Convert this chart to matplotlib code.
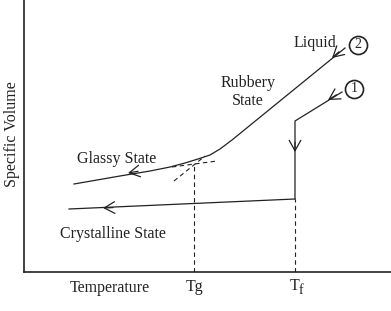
import matplotlib
matplotlib.use("Agg")
import matplotlib.pyplot as plt

plt.rcParams['font.family'] = ['Liberation Serif', 'DejaVu Serif']

# curve values (temperature, specific volume), arbitrary units
glass_T = [74, 120, 150, 170, 185, 198, 210, 220, 232, 345]
glass_V = [88, 96, 101, 105, 109, 113, 117, 123, 132, 224]

glass_ext_T = [172, 217]
glass_ext_V = [105, 111]
rubber_ext_T = [174, 205]
rubber_ext_V = [91, 116]

cryst_T = [69, 295]
cryst_V = [63, 73]

path1_T = [342, 295, 295]
path1_V = [180, 151, 73]

Tg = 194
Tg_V = 107
Tf = 295
Tf_V = 73

col = '#222222'
lw = 0.9

fig = plt.figure(figsize=(3.91, 3.11), dpi=100)
ax = fig.add_axes([24 / 391, 39 / 311, 367 / 391, 272 / 311])
ax.set_xlim(24, 391)
ax.set_ylim(0, 272)

ax.plot(glass_T, glass_V, color=col, lw=lw)
ax.plot(glass_ext_T, glass_ext_V, color=col, lw=0.8, ls=(0, (4, 3)))
ax.plot(rubber_ext_T, rubber_ext_V, color=col, lw=0.8, ls=(0, (4, 3)))
ax.plot(cryst_T, cryst_V, color=col, lw=lw)
ax.plot(path1_T, path1_V, color=col, lw=lw)
ax.plot([Tg, Tg], [0, Tg_V], color=col, lw=0.8, ls=(0, (4, 3)))
ax.plot([Tf, Tf], [0, Tf_V], color=col, lw=0.8, ls=(0, (4, 3)))

# open arrowheads along the paths
arrows = [
    ((128, 99), (138, 100.7)),
    ((103, 64), (113, 64.4)),
    ((295, 120), (295, 130)),
    ((328, 172), (336.5, 177.2)),
    ((332, 214), (339, 220.3)),
]
for tip, tail in arrows:
    ax.annotate('', xy=tip, xytext=tail,
                arrowprops=dict(arrowstyle='->,head_length=0.5,head_width=0.28',
                                color=col, lw=0.9,
                                mutation_scale=15, shrinkA=0, shrinkB=0))

# circled path numbers
for x, y, s in [(354, 183, '1'), (358, 227, '2')]:
    ax.plot(x, y, 'o', ms=13, mfc='white', mec=col, mew=1.2)
    ax.text(x, y, s, ha='center', va='center', fontsize=10, color=col)

fs = 11.5
ax.text(315, 229, 'Liquid', ha='center', va='center', fontsize=fs, color=col)
ax.text(248, 180, 'Rubbery\nState', ha='center', va='center', fontsize=fs,
        color=col, linespacing=1.1)
ax.text(117, 113, 'Glassy State', ha='center', va='center', fontsize=fs, color=col)
ax.text(113, 38, 'Crystalline State', ha='center', va='center', fontsize=fs, color=col)

ax.set_xticks([])
ax.set_yticks([])
for s in ['top', 'right']:
    ax.spines[s].set_visible(False)
for s in ['left', 'bottom']:
    ax.spines[s].set_linewidth(1.2)
    ax.spines[s].set_color(col)

fig.text(12 / 391, 1 - 134 / 311, 'Specific Volume', rotation=90, ha='center',
         va='center', fontsize=fs, color=col)
fig.text(110 / 391, 1 - 288 / 311, 'Temperature', ha='center', va='center',
         fontsize=fs, color=col)
fig.text(195 / 391, 1 - 287 / 311, 'Tg', ha='center', va='center', fontsize=fs, color=col)
fig.text(295 / 391, 1 - 286 / 311, 'T', ha='center', va='center', fontsize=fs, color=col)
fig.text(299 / 391, 1 - 291 / 311, 'f', ha='left', va='center', fontsize=10, color=col)

fig.savefig('out.png', dpi=100)
